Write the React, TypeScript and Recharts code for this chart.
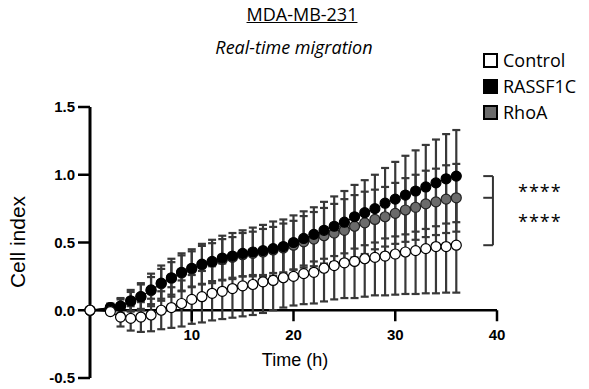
import { LineChart, Line, XAxis, YAxis, ErrorBar, ReferenceLine, Legend } from 'recharts';

// sampling times (h) and mean ± SD of the cell index for each condition
const hours = [0, 2, 3, 4, 5, 6, 7, 8, 9, 10, 11, 12, 13, 14, 15, 16, 17, 18, 19, 20, 21, 22, 23, 24, 25, 26, 27, 28, 29, 30, 31, 32, 33, 34, 35, 36];

const controlMean = [0, -0.01, -0.05, -0.06, -0.05, -0.035, 0.0, 0.02, 0.05, 0.08, 0.1, 0.125, 0.14, 0.16, 0.18, 0.19, 0.21, 0.22, 0.24, 0.25, 0.27, 0.28, 0.31, 0.33, 0.35, 0.36, 0.38, 0.39, 0.4, 0.415, 0.43, 0.44, 0.455, 0.47, 0.47, 0.48];
const controlSd = [0, 0.02, 0.07, 0.09, 0.11, 0.12, 0.14, 0.15, 0.17, 0.18, 0.19, 0.2, 0.205, 0.215, 0.225, 0.225, 0.23, 0.22, 0.22, 0.215, 0.225, 0.23, 0.245, 0.25, 0.26, 0.27, 0.28, 0.28, 0.29, 0.3, 0.31, 0.32, 0.33, 0.345, 0.34, 0.35];

const rassfMean = [0, 0.02, 0.03, 0.07, 0.1, 0.15, 0.2, 0.24, 0.28, 0.31, 0.34, 0.36, 0.385, 0.4, 0.42, 0.43, 0.44, 0.455, 0.47, 0.5, 0.53, 0.56, 0.59, 0.62, 0.65, 0.69, 0.72, 0.75, 0.79, 0.82, 0.85, 0.88, 0.91, 0.94, 0.97, 0.99];
const rassfSd = [0, 0.03, 0.06, 0.08, 0.1, 0.12, 0.13, 0.14, 0.14, 0.14, 0.15, 0.16, 0.165, 0.17, 0.17, 0.18, 0.19, 0.2, 0.2, 0.2, 0.2, 0.2, 0.21, 0.22, 0.23, 0.235, 0.24, 0.25, 0.26, 0.275, 0.29, 0.3, 0.31, 0.32, 0.33, 0.34];

const rhoaMean = [0, 0.02, 0.03, 0.065, 0.1, 0.145, 0.195, 0.235, 0.275, 0.305, 0.335, 0.355, 0.375, 0.39, 0.41, 0.42, 0.43, 0.445, 0.46, 0.48, 0.505, 0.525, 0.55, 0.57, 0.59, 0.62, 0.645, 0.67, 0.69, 0.715, 0.74, 0.76, 0.785, 0.8, 0.82, 0.83];
const rhoaSd = [0, 0.02, 0.05, 0.07, 0.09, 0.1, 0.11, 0.12, 0.13, 0.13, 0.14, 0.14, 0.15, 0.15, 0.16, 0.16, 0.17, 0.17, 0.18, 0.18, 0.19, 0.2, 0.205, 0.215, 0.23, 0.23, 0.23, 0.22, 0.22, 0.225, 0.235, 0.24, 0.245, 0.245, 0.25, 0.25];

const legendNames = ['Control', 'RASSF1C', 'RhoA'];
const legendFills = ['#ffffff', '#000000', '#6b6b6b'];

const xTicks = [10, 20, 30, 40];
const yTicks = [-0.5, 0, 0.5, 1, 1.5];
const Y_MIN = -0.5;
const Y_MAX = 1.5;

const rows = hours.map((t, i) => ({
  t,
  control: controlMean[i],
  controlSd: controlSd[i],
  rassf: rassfMean[i],
  rassfSd: rassfSd[i],
  rhoa: rhoaMean[i],
  rhoaSd: rhoaSd[i],
}));

const W = 589;
const H = 389;
const margin = { top: 107, right: 92, bottom: 0, left: 10 };
const X_AXIS_H = 11;
const plotH = H - margin.top - margin.bottom - X_AXIS_H;
// the x axis crosses at y = 0, not at the bottom of the plot
const zeroLift = (plotH * (0 - Y_MIN)) / (Y_MAX - Y_MIN);

const last = hours.length - 1;
const BRACKET_X = 39.6;
const BRACKET_TIP = 38.65;

const arial = '"Liberation Sans", Arial, sans-serif';
const calibriLike = '"Open Sans", "Noto Sans", sans-serif';
const barColor = '#383838';

function TimeTick(props: any) {
  const { x, y, payload } = props;
  const y0 = y - zeroLift;
  return (
    <g>
      <line x1={x} x2={x} y1={y0} y2={y0 + 11} stroke="#000" strokeWidth={2.5} />
      <text x={x} y={y0 + 30} textAnchor="middle" fontSize={15} fontWeight={700} fontFamily={arial} fill="#000">
        {payload.value}
      </text>
    </g>
  );
}

function LegendBox() {
  return (
    <div style={{ fontFamily: calibriLike, fontSize: 18, color: '#000' }}>
      {legendNames.map((name, i) => (
        <div key={name} style={{ display: 'flex', alignItems: 'center', height: 26 }}>
          <span
            style={{
              display: 'inline-block',
              width: 15,
              height: 15,
              boxSizing: 'border-box',
              border: '2px solid #000',
              background: legendFills[i],
              marginRight: 5,
            }}
          />
          <span>{name}</span>
        </div>
      ))}
    </div>
  );
}

const textAbs = (left: number, top: number): React.CSSProperties => ({
  position: 'absolute',
  left,
  top,
  whiteSpace: 'nowrap',
  lineHeight: '20px',
  color: '#000',
});

export default function App() {
  return (
    <div style={{ position: 'absolute', left: 0, top: 0, width: W, height: H, background: '#fff', overflow: 'hidden' }}>
      <LineChart width={W} height={H} data={rows} margin={margin}>
        <XAxis
          type="number"
          dataKey="t"
          domain={[0, 40]}
          ticks={xTicks}
          interval={0}
          axisLine={false}
          tickLine={false}
          tickSize={0}
          tickMargin={0}
          height={X_AXIS_H}
          tick={(p: any) => <TimeTick {...p} />}
        />
        <YAxis
          type="number"
          domain={[Y_MIN, Y_MAX]}
          ticks={yTicks}
          interval={0}
          width={80}
          axisLine={{ stroke: '#000', strokeWidth: 3 }}
          tickLine={{ stroke: '#000', strokeWidth: 2.5 }}
          tickSize={12}
          tickMargin={3}
          tick={{ fill: '#000', fontSize: 15, fontWeight: 700, fontFamily: arial }}
          tickFormatter={(v: number) => v.toFixed(1)}
        />
        <ReferenceLine y={0} stroke="#000" strokeWidth={2.5} />
        <ReferenceLine
          segment={[{ x: BRACKET_X, y: controlMean[last] }, { x: BRACKET_X, y: rassfMean[last] }]}
          stroke="#333"
          strokeWidth={2}
        />
        <ReferenceLine segment={[{ x: BRACKET_TIP, y: rassfMean[last] }, { x: BRACKET_X, y: rassfMean[last] }]} stroke="#333" strokeWidth={2} />
        <ReferenceLine segment={[{ x: BRACKET_TIP, y: rhoaMean[last] }, { x: BRACKET_X, y: rhoaMean[last] }]} stroke="#333" strokeWidth={2} />
        <ReferenceLine segment={[{ x: BRACKET_TIP, y: controlMean[last] }, { x: BRACKET_X, y: controlMean[last] }]} stroke="#333" strokeWidth={2} />

        {/* error bars first, so every symbol sits on top of them */}
        <Line dataKey="control" stroke="none" dot={false} activeDot={false} legendType="none" isAnimationActive={false}>
          <ErrorBar dataKey="controlSd" width={4} strokeWidth={2.2} stroke={barColor} direction="y" isAnimationActive={false} />
        </Line>
        <Line dataKey="rhoa" stroke="none" dot={false} activeDot={false} legendType="none" isAnimationActive={false}>
          <ErrorBar dataKey="rhoaSd" width={4} strokeWidth={2.2} stroke={barColor} direction="y" isAnimationActive={false} />
        </Line>
        <Line dataKey="rassf" stroke="none" dot={false} activeDot={false} legendType="none" isAnimationActive={false}>
          <ErrorBar dataKey="rassfSd" width={4} strokeWidth={2.2} stroke={barColor} direction="y" isAnimationActive={false} />
        </Line>

        <Line
          dataKey="rhoa"
          name="RhoA"
          stroke="#000"
          strokeWidth={1}
          dot={{ r: 5, fill: '#6b6b6b', stroke: '#222', strokeWidth: 1.2 }}
          activeDot={false}
          isAnimationActive={false}
        />
        <Line
          dataKey="rassf"
          name="RASSF1C"
          stroke="#000"
          strokeWidth={1}
          dot={{ r: 5, fill: '#000', stroke: '#000', strokeWidth: 1.2 }}
          activeDot={false}
          isAnimationActive={false}
        />
        <Line
          dataKey="control"
          name="Control"
          stroke="#000"
          strokeWidth={1}
          dot={{ r: 5, fill: '#fff', stroke: '#000', strokeWidth: 1.2 }}
          activeDot={false}
          isAnimationActive={false}
        />
        <Legend
          layout="horizontal"
          align="center"
          verticalAlign="middle"
          content={() => <LegendBox />}
          wrapperStyle={{ left: 483, top: 47, width: 110, height: 80 }}
        />
      </LineChart>

      <div style={{ ...textAbs(0, 4), width: 604, textAlign: 'center', fontFamily: calibriLike, fontSize: 18, textDecoration: 'underline' }}>
        MDA-MB-231
      </div>
      <div style={{ ...textAbs(0, 37), width: 588, textAlign: 'center', fontFamily: calibriLike, fontSize: 18, fontStyle: 'italic' }}>
        Real-time migration
      </div>
      <div style={{ ...textAbs(518, 181), fontFamily: calibriLike, fontSize: 18, letterSpacing: 1 }}>****</div>
      <div style={{ ...textAbs(518, 211), fontFamily: calibriLike, fontSize: 18, letterSpacing: 1 }}>****</div>
      <div style={{ ...textAbs(245, 350), width: 100, textAlign: 'center', fontFamily: arial, fontSize: 18 }}>Time (h)</div>
      <div
        style={{
          ...textAbs(-32, 232),
          width: 100,
          textAlign: 'center',
          fontFamily: arial,
          fontSize: 21,
          transform: 'rotate(-90deg)',
        }}
      >
        Cell index
      </div>
    </div>
  );
}
